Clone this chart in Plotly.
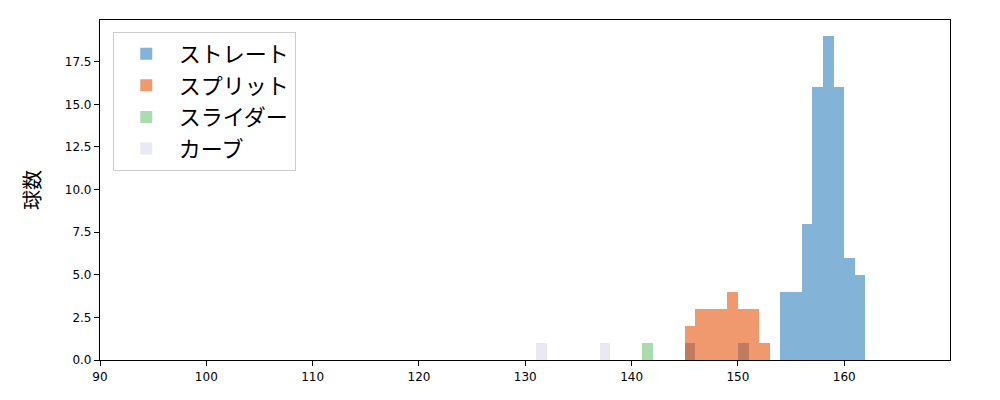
import plotly.graph_objects as go

# bin left edges (width 1) and counts per pitch type
straight_bins = [145, 150, 154, 155, 156, 157, 158, 159, 160, 161]
straight_counts = [1, 1, 4, 4, 8, 16, 19, 16, 6, 5]

split_bins = [145, 146, 147, 148, 149, 150, 151, 152]
split_counts = [2, 3, 3, 3, 4, 3, 3, 1]

slider_bins = [141]
slider_counts = [1]

curve_bins = [131, 137]
curve_counts = [1, 1]

BIN_WIDTH = 1.0

# tab20c colours drawn at alpha 0.6
series = [
    ("ストレート", straight_bins, straight_counts, "rgba(49,130,189,0.6)"),
    ("スプリット", split_bins, split_counts, "rgba(230,85,13,0.6)"),
    ("スライダー", slider_bins, slider_counts, "rgba(116,196,118,0.6)"),
    ("カーブ", curve_bins, curve_counts, "rgba(218,218,235,0.6)"),
]

JP_FONT = "Noto Sans CJK JP, sans-serif"
TICK_FONT = "DejaVu Sans, sans-serif"

fig = go.Figure()
for name, bins, counts, color in series:
    fig.add_trace(
        go.Bar(
            name=name,
            x=[b + BIN_WIDTH / 2 for b in bins],
            y=counts,
            width=BIN_WIDTH,
            marker={"color": color, "line": {"width": 0}},
        )
    )

axis_common = {
    "showline": True,
    "linecolor": "black",
    "linewidth": 1.2,
    "mirror": True,
    "ticks": "outside",
    "ticklen": 5,
    "tickcolor": "black",
    "showgrid": False,
    "zeroline": False,
    "automargin": False,
    "tickfont": {"family": TICK_FONT, "size": 12, "color": "black"},
}

# page body has an 8px margin, so the figure is sized to fit inside it
fig.update_layout(
    barmode="overlay",
    bargap=0,
    width=984,
    height=384,
    plot_bgcolor="white",
    paper_bgcolor="white",
    font={"family": JP_FONT, "color": "black"},
    margin={"l": 92, "r": 42, "t": 12, "b": 32},
    xaxis={**axis_common, "range": [90, 169.95], "dtick": 10, "tick0": 90},
    yaxis={
        **axis_common,
        "range": [0, 19.95],
        "dtick": 2.5,
        "tick0": 0,
        "tickformat": ".1f",
        "title": {"text": "球数", "font": {"size": 20}, "standoff": 18},
    },
    legend={
        "x": 0.015,
        "y": 0.965,
        "xanchor": "left",
        "yanchor": "top",
        "bgcolor": "white",
        "bordercolor": "#cccccc",
        "borderwidth": 1,
        "font": {"size": 22},
        "itemwidth": 55,
    },
)

fig.write_html("out.html")
